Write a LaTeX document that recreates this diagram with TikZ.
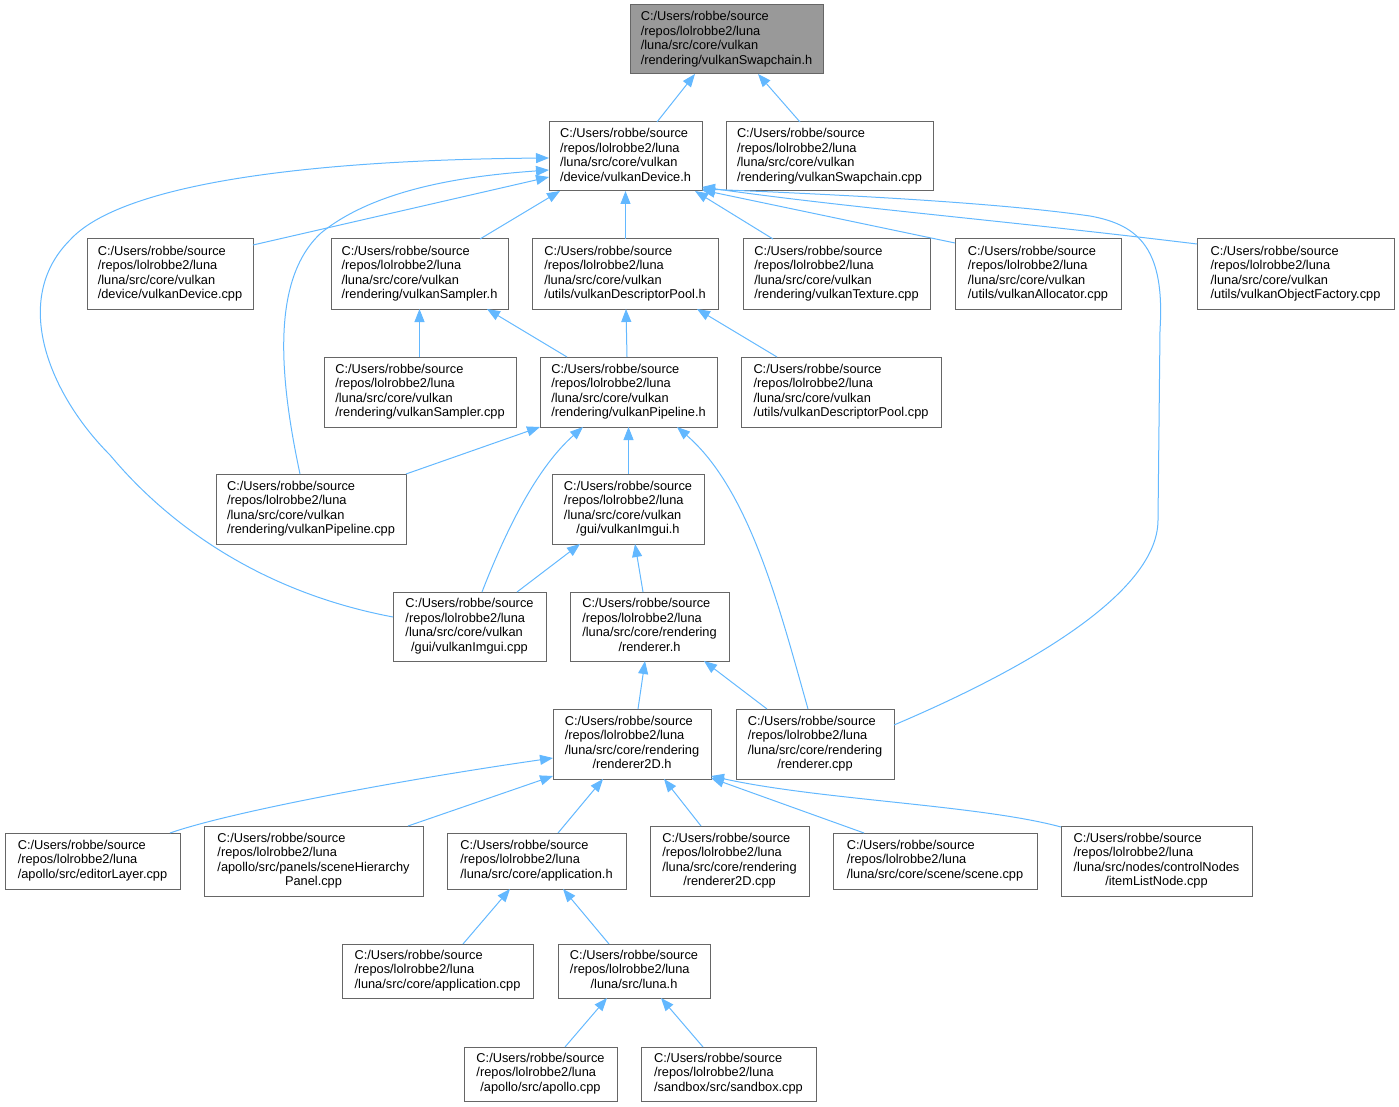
\documentclass[tikz,border=0pt]{standalone}
\usepackage{fontspec}
\setmainfont{Liberation Sans}
\usetikzlibrary{arrows.meta,calc}
\definecolor{edgec}{HTML}{63B8FF}
\definecolor{boxc}{HTML}{666666}
\definecolor{rootc}{HTML}{999999}
\newcommand\fourl[4]{\begin{tabular}{@{}l@{}}#1\\#2\\#3\\\multicolumn{1}{@{}c@{}}{#4}\end{tabular}}
\newcommand\threel[3]{\begin{tabular}{@{}l@{}}#1\\#2\\\multicolumn{1}{@{}c@{}}{#3}\end{tabular}}
\newcommand\pUs{C:/Users/robbe/source}
\newcommand\pRe{/repos/lolrobbe2/luna}
\newcommand\pVk{/luna/src/core/vulkan}
\newcommand\pRn{/luna/src/core/rendering}
\newcommand\bx[7][box]{\node[#1, minimum width={(#5-#3)*1pt}, minimum height={(#6-#4)*1pt}] (#2) at ({(#3+#5)/2},{(#4+#6)/2}) {#7};}
\tikzset{
  box/.style={draw=boxc, line width=1pt, fill=white, inner sep=0pt, outer sep=0pt,
    font=\fontsize{12.8}{14.6}\selectfont},
  rootbox/.style={box, fill=rootc},
  edge/.style={draw=edgec, line width=1pt, -{Triangle[length=13pt,width=10pt]}},
}
\begin{document}
\begin{tikzpicture}[x=1pt,y=-1pt]
\useasboundingbox (0,0) rectangle (1399,1107);
% nodes
\bx[rootbox]{sw}{630}{5}{823}{74}{\fourl{\pUs}{\pRe}{\pVk}{/rendering/vulkanSwapchain.h}}
\bx{dev}{549}{122}{702}{191}{\fourl{\pUs}{\pRe}{\pVk}{/device/vulkanDevice.h}}
\bx{swc}{726}{122}{933}{191}{\fourl{\pUs}{\pRe}{\pVk}{/rendering/vulkanSwapchain.cpp}}
\bx{devc}{87}{239}{253}{309}{\fourl{\pUs}{\pRe}{\pVk}{/device/vulkanDevice.cpp}}
\bx{samh}{331}{239}{508}{309}{\fourl{\pUs}{\pRe}{\pVk}{/rendering/vulkanSampler.h}}
\bx{dph}{532}{239}{718}{309}{\fourl{\pUs}{\pRe}{\pVk}{/utils/vulkanDescriptorPool.h}}
\bx{tex}{743}{239}{930}{309}{\fourl{\pUs}{\pRe}{\pVk}{/rendering/vulkanTexture.cpp}}
\bx{alloc}{955}{239}{1121}{309}{\fourl{\pUs}{\pRe}{\pVk}{/utils/vulkanAllocator.cpp}}
\bx{objf}{1197}{239}{1394}{309}{\fourl{\pUs}{\pRe}{\pVk}{/utils/vulkanObjectFactory.cpp}}
\bx{samc}{324}{357}{516}{427}{\fourl{\pUs}{\pRe}{\pVk}{/rendering/vulkanSampler.cpp}}
\bx{pipeh}{540}{357}{717}{427}{\fourl{\pUs}{\pRe}{\pVk}{/rendering/vulkanPipeline.h}}
\bx{dpc}{741}{357}{941}{427}{\fourl{\pUs}{\pRe}{\pVk}{/utils/vulkanDescriptorPool.cpp}}
\bx{pipec}{216}{474}{406}{544}{\fourl{\pUs}{\pRe}{\pVk}{/rendering/vulkanPipeline.cpp}}
\bx{imh}{552}{474}{704}{544}{\fourl{\pUs}{\pRe}{\pVk}{/gui/vulkanImgui.h}}
\bx{imc}{393}{592}{546}{661}{\fourl{\pUs}{\pRe}{\pVk}{/gui/vulkanImgui.cpp}}
\bx{rh}{570}{592}{729}{661}{\fourl{\pUs}{\pRe}{\pRn}{/renderer.h}}
\bx{r2h}{553}{709}{711}{779}{\fourl{\pUs}{\pRe}{\pRn}{/renderer2D.h}}
\bx{rc}{736}{709}{894}{779}{\fourl{\pUs}{\pRe}{\pRn}{/renderer.cpp}}
\bx{edl}{5}{833}{180}{889}{\threel{\pUs}{\pRe}{/apollo/src/editorLayer.cpp}}
\bx{shp}{204}{826}{423}{896}{\fourl{\pUs}{\pRe}{/apollo/src/panels/sceneHierarchy}{Panel.cpp}}
\bx{apph}{447}{833}{626}{889}{\threel{\pUs}{\pRe}{/luna/src/core/application.h}}
\bx{r2c}{650}{826}{809}{896}{\fourl{\pUs}{\pRe}{\pRn}{/renderer2D.cpp}}
\bx{scn}{833}{833}{1037}{889}{\threel{\pUs}{\pRe}{/luna/src/core/scene/scene.cpp}}
\bx{iln}{1061}{826}{1252}{896}{\fourl{\pUs}{\pRe}{/luna/src/nodes/controlNodes}{/itemListNode.cpp}}
\bx{appc}{342}{944}{533}{998}{\threel{\pUs}{\pRe}{/luna/src/core/application.cpp}}
\bx{lunah}{558}{944}{710}{998}{\threel{\pUs}{\pRe}{/luna/src/luna.h}}
\bx{apc}{464}{1047}{617}{1101}{\threel{\pUs}{\pRe}{/apollo/src/apollo.cpp}}
\bx{sbx}{641}{1047}{816}{1101}{\threel{\pUs}{\pRe}{/sandbox/src/sandbox.cpp}}
% edges
\draw[edge] (dev.north -| 657,0) -- (sw.south -| 695,0);
\draw[edge] (swc.north -| 800,0) -- (sw.south -| 758,0);
\draw[edge] (devc.east |- 0,245) -- (dev.west |- 0,177);
\draw[edge] (samh.north -| 480,0) -- (dev.south -| 560,0);
\draw[edge] (dph.north -| 625.5,0) -- (dev.south -| 625.5,0);
\draw[edge] (tex.north -| 773,0) -- (dev.south -| 695,0);
\draw[edge] (alloc.west |- 0,243) -- (dev.east |- 0,190);
\draw[edge] (objf.west |- 0,244) .. controls (1000,220) and (850,208) .. (dev.east |- 0,187);
\draw[edge] (pipec.north -| 300,0) .. controls (280,380) and (270,280) .. (321,233) .. controls (380,185) and (480,175) .. (dev.west |- 0,170);
\draw[edge] (imc.west |- 0,617) .. controls (250,590) and (160,515) .. (110,455) .. controls (50,395) and (10,300) .. (70,240) .. controls (120,185) and (300,160) .. (dev.west |- 0,158);
\draw[edge] (samc.north -| 419.5,0) -- (samh.south -| 419.5,0);
\draw[edge] (pipeh.north -| 567,0) -- (samh.south -| 487,0);
\draw[edge] (pipeh.north -| 627,0) -- (dph.south -| 626,0);
\draw[edge] (dpc.north -| 777,0) -- (dph.south -| 697,0);
\draw[edge] (pipec.north -| 406,0) -- (pipeh.south -| 540,0);
\draw[edge] (imc.north -| 482,0) .. controls (510,520) and (540,465) .. (pipeh.south -| 583,0);
\draw[edge] (imh.north -| 628.5,0) -- (pipeh.south -| 628.5,0);
\draw[edge] (rc.north -| 808,0) .. controls (780,610) and (750,490) .. (pipeh.south -| 677,0);
\draw[edge] (imc.north -| 517,0) -- (imh.south -| 580,0);
\draw[edge] (rh.north -| 643,0) -- (imh.south -| 635,0);
\draw[edge] (r2h.north -| 638,0) -- (rh.south -| 645,0);
\draw[edge] (rc.north -| 767,0) -- (rh.south -| 704,0);
\draw[edge] (rc.east |- 0,725) .. controls (1000,680) and (1158,600) .. (1158,520) -- (1160,330) .. controls (1165,250) and (1140,225) .. (1090,216) .. controls (1000,203) and (850,195) .. (dev.east |- 0,189);
\draw[edge] (edl.north -| 170,0) .. controls (230,812) and (400,780) .. (r2h.west |- 0,758);
\draw[edge] (shp.north -| 408,0) -- (r2h.west |- 0,776);
\draw[edge] (apph.north -| 558,0) -- (r2h.south -| 603,0);
\draw[edge] (r2c.north -| 701,0) -- (r2h.south -| 664,0);
\draw[edge] (scn.north -| 864,0) -- (r2h.east |- 0,778);
\draw[edge] (iln.west |- 0,827) .. controls (980,805) and (820,800) .. (r2h.east |- 0,776);
\draw[edge] (appc.north -| 463,0) -- (apph.south -| 510,0);
\draw[edge] (lunah.north -| 609,0) -- (apph.south -| 563,0);
\draw[edge] (apc.north -| 565,0) -- (lunah.south -| 607,0);
\draw[edge] (sbx.north -| 703,0) -- (lunah.south -| 661,0);
\end{tikzpicture}
\end{document}
